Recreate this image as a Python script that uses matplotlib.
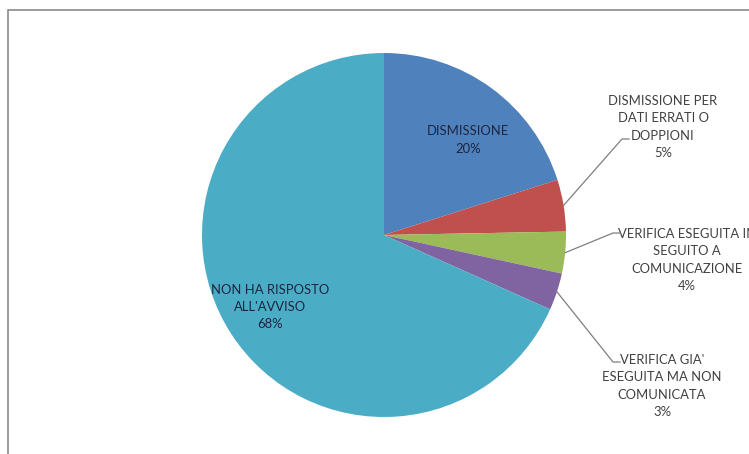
import matplotlib
matplotlib.use("Agg")
import matplotlib.pyplot as plt
from matplotlib.patches import Rectangle
import numpy as np

categories = ["DISMISSIONE", "DISMISSIONE PER\nDATI ERRATI O\nDOPPIONI",
              "VERIFICA ESEGUITA IN\nSEGUITO A\nCOMUNICAZIONE",
              "VERIFICA GIA'\nESEGUITA MA NON\nCOMUNICATA",
              "NON HA RISPOSTO\nALL'AVVISO"]
values = [20.1, 4.6, 3.7, 3.3, 68.3]
colors = ["#4F81BD", "#C0504D", "#9BBB59", "#8064A2", "#4BACC6"]

W, H = 749, 454
fig = plt.figure(figsize=(W / 100, H / 100), dpi=100)
ax = fig.add_axes([0, 0, 1, 1])

cx, cy, R = 384, H - 235, 182
wedges, _ = ax.pie(values, colors=colors, startangle=90, counterclock=False,
                   center=(cx, cy), radius=R, frame=True,
                   wedgeprops=dict(linewidth=0))
ax.set_xlim(0, W)
ax.set_ylim(0, H)
ax.set_aspect("equal")
ax.axis("off")

# chart area border
ax.add_patch(Rectangle((8, -5), W, H - 10 + 5, fill=False, edgecolor="#8a8a8a", lw=1.2, zorder=5))

font = "Lato"
fs = 9.4
inside_col = "#1c2540"
out_col = "#404040"

def lbl(i):
    return f"{categories[i]}\n{values[i]:.0f}%"

# inside labels
ax.text(468, H - 140, lbl(0), ha="center", va="center", fontsize=fs, family=font,
        color=inside_col, linespacing=1.55)
ax.text(270, H - 307, lbl(4), ha="center", va="center", fontsize=fs, family=font,
        color=inside_col, linespacing=1.55)

# outside labels with leader lines
outside = [(1, (663, H - 127), (622, H - 139)),
           (2, (687, H - 260), (613, H - 233)),
           (3, (662, H - 386), (613, H - 362))]
for i, (tx, ty), (ex, ey) in outside:
    w = wedges[i]
    mid = np.deg2rad((w.theta1 + w.theta2) / 2)
    px = w.center[0] + w.r * np.cos(mid)
    py = w.center[1] + w.r * np.sin(mid)
    ax.plot([px, ex, ex + 7], [py, ey, ey], color="#7f7f7f", lw=0.9, zorder=6)
    ax.text(tx, ty, lbl(i), ha="center", va="center", fontsize=fs, family=font,
            color=out_col, linespacing=1.55)

fig.savefig("out.png", dpi=100)
